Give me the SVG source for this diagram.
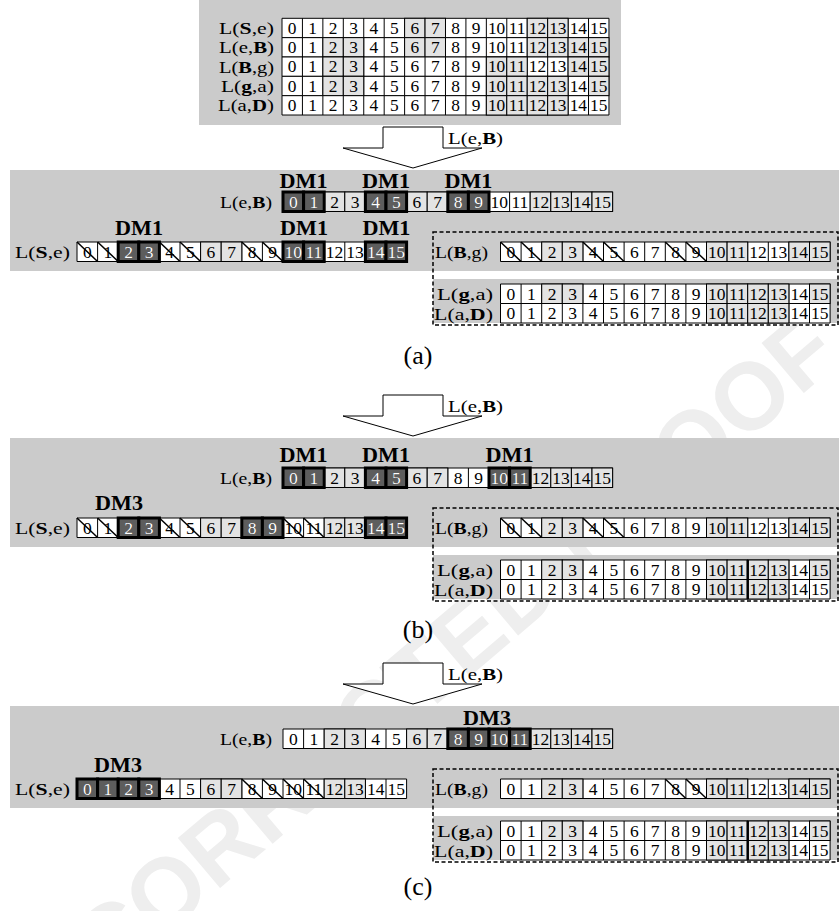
<svg xmlns="http://www.w3.org/2000/svg" width="839" height="911" viewBox="0 0 839 911">
<style>
.bg{fill:#cbcbcb}
.l{fill:#e3e3e3;stroke:#000;stroke-width:1}
.d{fill:#5d5d5d;stroke:#000;stroke-width:3}
.x{stroke:#000;stroke-width:1.5;fill:none}
.n{font-family:"Liberation Serif","Times New Roman",serif;font-size:17.5px;text-anchor:middle;fill:#000}
.w{fill:#fff}
.t{font-family:"Liberation Serif","Times New Roman",serif;font-size:17.5px;fill:#000}
.e{text-anchor:end}
.b{font-weight:bold}
.dm{font-family:"Liberation Serif","Times New Roman",serif;font-size:20px;font-weight:bold;text-anchor:middle;fill:#000}
.dash{fill:none;stroke:#000;stroke-width:1.5;stroke-dasharray:4 2.5}
.arrow{fill:#fff;stroke:#000;stroke-width:1}
.cap{font-family:"Liberation Serif","Times New Roman",serif;font-size:26px;text-anchor:middle;fill:#000}
.sep{stroke:#000;stroke-width:2.5}
.wm{font-family:"Liberation Sans",Arial,sans-serif;font-size:95px;font-weight:bold;fill:#eeeeee}
</style>
<defs>
<g id="cells"><rect width="329.6" height="19.5" fill="#fff"/><path d="M0 0H329.6V19.5H0ZM20.6 0v19.5M41.2 0v19.5M61.8 0v19.5M82.4 0v19.5M103 0v19.5M123.6 0v19.5M144.2 0v19.5M164.8 0v19.5M185.4 0v19.5M206 0v19.5M226.6 0v19.5M247.2 0v19.5M267.8 0v19.5M288.4 0v19.5M309 0v19.5" fill="none" stroke="#000" stroke-width="1"/></g>
<rect id="L" class="l" width="20.6" height="19.5"/>
<rect id="D" class="d" width="20.6" height="19.5"/>
<path id="X" class="x" d="M0 0L20.6 19.5"/>
<text id="nums" class="n" y="15.6"><tspan x="10.3">0</tspan><tspan x="30.9">1</tspan><tspan x="51.5">2</tspan><tspan x="72.1">3</tspan><tspan x="92.7">4</tspan><tspan x="113.3">5</tspan><tspan x="133.9">6</tspan><tspan x="154.5">7</tspan><tspan x="175.1">8</tspan><tspan x="195.7">9</tspan><tspan x="216.3">10</tspan><tspan x="236.9">11</tspan><tspan x="257.5">12</tspan><tspan x="278.1">13</tspan><tspan x="298.7">14</tspan><tspan x="319.3">15</tspan></text>
</defs>

<!-- faint watermark behind the figure -->
<text class="wm" transform="translate(2,1073) rotate(-40.3)">UNCORRECTED PROOF</text>

<!-- Top panel -->
<g id="top-panel">
<rect class="bg" x="199" y="0" width="422" height="125"/>
<text class="t e" x="274" y="34" textLength="55" lengthAdjust="spacingAndGlyphs">L(<tspan class="b">S</tspan>,e)</text>
<text class="t e" x="274" y="53.4" textLength="55" lengthAdjust="spacingAndGlyphs">L(e,<tspan class="b">B</tspan>)</text>
<text class="t e" x="274" y="72.7" textLength="55" lengthAdjust="spacingAndGlyphs">L(<tspan class="b">B</tspan>,g)</text>
<text class="t e" x="274" y="92" textLength="53" lengthAdjust="spacingAndGlyphs">L(<tspan class="b">g</tspan>,a)</text>
<text class="t e" x="274" y="111.4" textLength="56" lengthAdjust="spacingAndGlyphs">L(a,<tspan class="b">D</tspan>)</text>
<g transform="translate(282,18.3) scale(0.992)">
<g><use href="#cells"/><use href="#L" x="123.6"/><use href="#L" x="144.2"/><use href="#L" x="247.2"/><use href="#L" x="267.8"/><use href="#nums"/></g>
<g transform="translate(0,19.5)"><use href="#cells"/><use href="#L" x="41.2"/><use href="#L" x="61.8"/><use href="#L" x="123.6"/><use href="#L" x="144.2"/><use href="#L" x="247.2"/><use href="#L" x="267.8"/><use href="#L" x="288.4"/><use href="#L" x="309"/><use href="#nums"/></g>
<g transform="translate(0,39)"><use href="#cells"/><use href="#L" x="41.2"/><use href="#L" x="61.8"/><use href="#L" x="206"/><use href="#L" x="226.6"/><use href="#L" x="288.4"/><use href="#L" x="309"/><use href="#nums"/></g>
<g transform="translate(0,58.5)"><use href="#cells"/><use href="#L" x="41.2"/><use href="#L" x="61.8"/><use href="#L" x="206"/><use href="#L" x="226.6"/><use href="#L" x="247.2"/><use href="#L" x="267.8"/><use href="#L" x="309"/><use href="#nums"/></g>
<g transform="translate(0,78)"><use href="#cells"/><use href="#L" x="206"/><use href="#L" x="226.6"/><use href="#L" x="247.2"/><use href="#L" x="267.8"/><use href="#nums"/></g>
</g>
</g>

<!-- Connectors (block arrows) -->
<g id="connectors">
<polygon class="arrow" points="383,127 443,127 443,148 482,148 413,168 343,148 383,148"/>
<text class="t" x="448" y="144" textLength="55" lengthAdjust="spacingAndGlyphs">L(e,<tspan class="b">B</tspan>)</text>
<polygon class="arrow" points="383,395 443,395 443,416 482,416 413,436 343,416 383,416"/>
<text class="t" x="448" y="412" textLength="55" lengthAdjust="spacingAndGlyphs">L(e,<tspan class="b">B</tspan>)</text>
<polygon class="arrow" points="383,663 443,663 443,684 482,684 413,704 343,684 383,684"/>
<text class="t" x="448" y="680" textLength="55" lengthAdjust="spacingAndGlyphs">L(e,<tspan class="b">B</tspan>)</text>
</g>

<!-- Panel (a) -->
<g id="panel-a">
<rect class="bg" x="10" y="170" width="829" height="101"/>
<rect class="bg" x="433" y="279" width="406" height="44"/>
<rect class="dash" x="433" y="232" width="405" height="93"/>
<text class="dm" x="303.6" y="188" textLength="48" lengthAdjust="spacingAndGlyphs">DM1</text>
<text class="dm" x="386" y="188" textLength="48" lengthAdjust="spacingAndGlyphs">DM1</text>
<text class="dm" x="468.4" y="188" textLength="48" lengthAdjust="spacingAndGlyphs">DM1</text>
<text class="t e" x="272" y="208.3" textLength="52" lengthAdjust="spacingAndGlyphs">L(e,<tspan class="b">B</tspan>)</text>
<g transform="translate(283,192)"><use href="#cells"/><use href="#L" x="41.2"/><use href="#L" x="61.8"/><use href="#L" x="123.6"/><use href="#L" x="144.2"/><use href="#L" x="247.2"/><use href="#L" x="267.8"/><use href="#L" x="288.4"/><use href="#L" x="309"/><use href="#D" x="0"/><use href="#D" x="20.6"/><use href="#D" x="82.4"/><use href="#D" x="103"/><use href="#D" x="164.8"/><use href="#D" x="185.4"/><use href="#nums"/><text class="n w" y="15.6"><tspan x="10.3">0</tspan><tspan x="30.9">1</tspan><tspan x="92.7">4</tspan><tspan x="113.3">5</tspan><tspan x="175.1">8</tspan><tspan x="195.7">9</tspan></text></g>
<text class="dm" x="139" y="235" textLength="48" lengthAdjust="spacingAndGlyphs">DM1</text>
<text class="dm" x="304" y="235" textLength="48" lengthAdjust="spacingAndGlyphs">DM1</text>
<text class="dm" x="386.4" y="235" textLength="48" lengthAdjust="spacingAndGlyphs">DM1</text>
<text class="t" x="15" y="258" textLength="55" lengthAdjust="spacingAndGlyphs">L(<tspan class="b">S</tspan>,e)</text>
<g transform="translate(77,242)"><use href="#cells"/><use href="#L" x="123.6"/><use href="#L" x="144.2"/><use href="#D" x="41.2"/><use href="#D" x="61.8"/><use href="#D" x="206"/><use href="#D" x="226.6"/><use href="#D" x="288.4"/><use href="#D" x="309"/><use href="#nums"/><text class="n w" y="15.6"><tspan x="51.5">2</tspan><tspan x="72.1">3</tspan><tspan x="216.3">10</tspan><tspan x="236.9">11</tspan><tspan x="298.7">14</tspan><tspan x="319.3">15</tspan></text><use href="#X" x="0"/><use href="#X" x="20.6"/><use href="#X" x="82.4"/><use href="#X" x="103"/><use href="#X" x="164.8"/><use href="#X" x="185.4"/></g>
<text class="t e" x="488" y="258" textLength="53" lengthAdjust="spacingAndGlyphs">L(<tspan class="b">B</tspan>,g)</text>
<g transform="translate(500.5,242)"><use href="#cells"/><use href="#L" x="41.2"/><use href="#L" x="61.8"/><use href="#L" x="206"/><use href="#L" x="226.6"/><use href="#L" x="288.4"/><use href="#L" x="309"/><use href="#nums"/><use href="#X" x="0"/><use href="#X" x="20.6"/><use href="#X" x="82.4"/><use href="#X" x="103"/><use href="#X" x="164.8"/><use href="#X" x="185.4"/></g>
<text class="t e" x="493" y="300" textLength="56" lengthAdjust="spacingAndGlyphs">L(<tspan class="b">g</tspan>,a)</text>
<text class="t e" x="493" y="319.5" textLength="59" lengthAdjust="spacingAndGlyphs">L(a,<tspan class="b">D</tspan>)</text>
<g transform="translate(500.5,284)"><use href="#cells"/><use href="#L" x="41.2"/><use href="#L" x="61.8"/><use href="#L" x="206"/><use href="#L" x="226.6"/><use href="#L" x="247.2"/><use href="#L" x="267.8"/><use href="#L" x="309"/><use href="#nums"/></g>
<g transform="translate(500.5,303.5)"><use href="#cells"/><use href="#L" x="206"/><use href="#L" x="226.6"/><use href="#L" x="247.2"/><use href="#L" x="267.8"/><use href="#nums"/></g>
<text class="cap" x="418" y="364">(a)</text>
</g>

<!-- Panel (b) -->
<g id="panel-b">
<rect class="bg" x="10" y="438" width="829" height="109"/>
<rect class="bg" x="433" y="555" width="406" height="44"/>
<rect class="dash" x="433" y="508" width="405" height="93"/>
<text class="dm" x="303.6" y="462" textLength="48" lengthAdjust="spacingAndGlyphs">DM1</text>
<text class="dm" x="386" y="462" textLength="48" lengthAdjust="spacingAndGlyphs">DM1</text>
<text class="dm" x="509.6" y="462" textLength="48" lengthAdjust="spacingAndGlyphs">DM1</text>
<text class="t e" x="272" y="484.3" textLength="52" lengthAdjust="spacingAndGlyphs">L(e,<tspan class="b">B</tspan>)</text>
<g transform="translate(283,468)"><use href="#cells"/><use href="#L" x="41.2"/><use href="#L" x="61.8"/><use href="#L" x="123.6"/><use href="#L" x="144.2"/><use href="#L" x="247.2"/><use href="#L" x="267.8"/><use href="#L" x="288.4"/><use href="#L" x="309"/><use href="#D" x="0"/><use href="#D" x="20.6"/><use href="#D" x="82.4"/><use href="#D" x="103"/><use href="#D" x="206"/><use href="#D" x="226.6"/><use href="#nums"/><text class="n w" y="15.6"><tspan x="10.3">0</tspan><tspan x="30.9">1</tspan><tspan x="92.7">4</tspan><tspan x="113.3">5</tspan><tspan x="216.3">10</tspan><tspan x="236.9">11</tspan></text></g>
<text class="dm" x="119" y="510" textLength="48" lengthAdjust="spacingAndGlyphs">DM3</text>
<text class="t" x="15" y="534" textLength="55" lengthAdjust="spacingAndGlyphs">L(<tspan class="b">S</tspan>,e)</text>
<g transform="translate(77,518)"><use href="#cells"/><use href="#L" x="123.6"/><use href="#L" x="144.2"/><use href="#L" x="247.2"/><use href="#L" x="267.8"/><use href="#D" x="41.2"/><use href="#D" x="61.8"/><use href="#D" x="164.8"/><use href="#D" x="185.4"/><use href="#D" x="288.4"/><use href="#D" x="309"/><use href="#nums"/><text class="n w" y="15.6"><tspan x="51.5">2</tspan><tspan x="72.1">3</tspan><tspan x="175.1">8</tspan><tspan x="195.7">9</tspan><tspan x="298.7">14</tspan><tspan x="319.3">15</tspan></text><use href="#X" x="0"/><use href="#X" x="20.6"/><use href="#X" x="82.4"/><use href="#X" x="103"/><use href="#X" x="206"/><use href="#X" x="226.6"/></g>
<text class="t e" x="488" y="534" textLength="53" lengthAdjust="spacingAndGlyphs">L(<tspan class="b">B</tspan>,g)</text>
<g transform="translate(500.5,518)"><use href="#cells"/><use href="#L" x="41.2"/><use href="#L" x="61.8"/><use href="#L" x="206"/><use href="#L" x="226.6"/><use href="#L" x="288.4"/><use href="#L" x="309"/><use href="#nums"/><use href="#X" x="0"/><use href="#X" x="20.6"/><use href="#X" x="82.4"/><use href="#X" x="103"/></g>
<text class="t e" x="493" y="576" textLength="56" lengthAdjust="spacingAndGlyphs">L(<tspan class="b">g</tspan>,a)</text>
<text class="t e" x="493" y="595.5" textLength="59" lengthAdjust="spacingAndGlyphs">L(a,<tspan class="b">D</tspan>)</text>
<g transform="translate(500.5,560)"><use href="#cells"/><use href="#L" x="41.2"/><use href="#L" x="61.8"/><use href="#L" x="206"/><use href="#L" x="226.6"/><use href="#L" x="247.2"/><use href="#L" x="267.8"/><use href="#L" x="309"/><use href="#nums"/></g>
<g transform="translate(500.5,579.5)"><use href="#cells"/><use href="#L" x="206"/><use href="#L" x="226.6"/><use href="#L" x="247.2"/><use href="#L" x="267.8"/><use href="#nums"/></g>
<path class="sep" d="M747.7 560V599"/>
<text class="cap" x="418" y="638">(b)</text>
</g>

<!-- Panel (c) -->
<g id="panel-c">
<rect class="bg" x="10" y="706" width="829" height="102"/>
<rect class="bg" x="433" y="816" width="406" height="44"/>
<rect class="dash" x="433" y="769" width="405" height="93"/>
<text class="dm" x="487" y="725" textLength="48" lengthAdjust="spacingAndGlyphs">DM3</text>
<text class="t e" x="272" y="745.3" textLength="52" lengthAdjust="spacingAndGlyphs">L(e,<tspan class="b">B</tspan>)</text>
<g transform="translate(283,729)"><use href="#cells"/><use href="#L" x="41.2"/><use href="#L" x="61.8"/><use href="#L" x="123.6"/><use href="#L" x="144.2"/><use href="#L" x="247.2"/><use href="#L" x="267.8"/><use href="#L" x="288.4"/><use href="#L" x="309"/><use href="#D" x="164.8"/><use href="#D" x="185.4"/><use href="#D" x="206"/><use href="#D" x="226.6"/><use href="#nums"/><text class="n w" y="15.6"><tspan x="175.1">8</tspan><tspan x="195.7">9</tspan><tspan x="216.3">10</tspan><tspan x="236.9">11</tspan></text></g>
<text class="dm" x="118" y="772" textLength="48" lengthAdjust="spacingAndGlyphs">DM3</text>
<text class="t" x="15" y="795" textLength="55" lengthAdjust="spacingAndGlyphs">L(<tspan class="b">S</tspan>,e)</text>
<g transform="translate(77,779)"><use href="#cells"/><use href="#L" x="123.6"/><use href="#L" x="144.2"/><use href="#L" x="247.2"/><use href="#L" x="267.8"/><use href="#D" x="0"/><use href="#D" x="20.6"/><use href="#D" x="41.2"/><use href="#D" x="61.8"/><use href="#nums"/><text class="n w" y="15.6"><tspan x="10.3">0</tspan><tspan x="30.9">1</tspan><tspan x="51.5">2</tspan><tspan x="72.1">3</tspan></text><use href="#X" x="164.8"/><use href="#X" x="185.4"/><use href="#X" x="206"/><use href="#X" x="226.6"/></g>
<text class="t e" x="488" y="795" textLength="53" lengthAdjust="spacingAndGlyphs">L(<tspan class="b">B</tspan>,g)</text>
<g transform="translate(500.5,779)"><use href="#cells"/><use href="#L" x="41.2"/><use href="#L" x="61.8"/><use href="#L" x="206"/><use href="#L" x="226.6"/><use href="#L" x="288.4"/><use href="#L" x="309"/><use href="#nums"/><use href="#X" x="164.8"/><use href="#X" x="185.4"/></g>
<text class="t e" x="493" y="837" textLength="56" lengthAdjust="spacingAndGlyphs">L(<tspan class="b">g</tspan>,a)</text>
<text class="t e" x="493" y="856.5" textLength="59" lengthAdjust="spacingAndGlyphs">L(a,<tspan class="b">D</tspan>)</text>
<g transform="translate(500.5,821)"><use href="#cells"/><use href="#L" x="41.2"/><use href="#L" x="61.8"/><use href="#L" x="206"/><use href="#L" x="226.6"/><use href="#L" x="247.2"/><use href="#L" x="267.8"/><use href="#L" x="309"/><use href="#nums"/></g>
<g transform="translate(500.5,840.5)"><use href="#cells"/><use href="#L" x="206"/><use href="#L" x="226.6"/><use href="#L" x="247.2"/><use href="#L" x="267.8"/><use href="#nums"/></g>
<path class="sep" d="M747.7 821V860"/>
<text class="cap" x="418" y="895">(c)</text>
</g>
</svg>
